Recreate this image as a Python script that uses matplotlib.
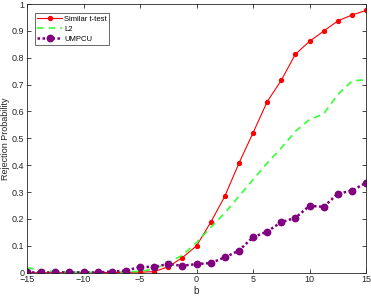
import matplotlib
matplotlib.use("Agg")
import matplotlib.pyplot as plt
import numpy as np

b = np.linspace(-15, 15, 25)
similar_t = [0.0, 0.0, 0.0, 0.0, 0.0, 0.0, 0.001, 0.001, 0.002, 0.004, 0.022, 0.056,
             0.100, 0.187, 0.284, 0.407, 0.520, 0.636, 0.716, 0.813, 0.861, 0.899,
             0.937, 0.959, 0.976]
l2 = [0.018, 0.010, 0.004, 0.002, 0.002, 0.002, 0.002, 0.003, 0.005, 0.014, 0.037, 0.065,
      0.112, 0.168, 0.222, 0.284, 0.346, 0.408, 0.464, 0.526, 0.570, 0.591,
      0.663, 0.713, 0.719]
umpcu = [0.001, 0.001, 0.001, 0.001, 0.001, 0.001, 0.004, 0.008, 0.021, 0.022, 0.032, 0.026,
         0.032, 0.036, 0.057, 0.082, 0.132, 0.153, 0.188, 0.204, 0.249, 0.245,
         0.294, 0.305, 0.335]

xticks = [-15, -10, -5, 0, 5, 10, 15]
yticks = [0, 0.1, 0.2, 0.3, 0.4, 0.5, 0.6, 0.7, 0.8, 0.9, 1]
ytick_labels = ["0", "0.1", "0.2", "0.3", "0.4", "0.5", "0.6", "0.7", "0.8", "0.9", "1"]

plt.rcParams['font.family'] = ['Liberation Sans', 'DejaVu Sans']
fig = plt.figure(figsize=(3.71, 2.98), dpi=100)
ax = fig.add_axes([27/371, 25.3/298, 339/371, 268.7/298])

ax.plot(b, similar_t, color='#ff0000', lw=0.8, marker='o', ms=2.8, label='Similar t-test')
ax.plot(b, l2, color='#33ff33', lw=1.2, ls=(0, (4, 3)), label='L2')
ax.plot(b, umpcu, color='#800080', lw=1.8, ls=(0, (1, 1)), marker='o', ms=4.6, label='UMPCU')

ax.set_xlim(-15, 15)
ax.set_ylim(0, 1)
ax.set_xticks(xticks)
ax.set_yticks(yticks)
ax.set_yticklabels(ytick_labels)
ax.tick_params(direction='in', length=3, width=0.6, labelsize=6.5, colors='#262626',
               top=True, right=True, pad=2)
for s in ax.spines.values():
    s.set_color('#262626')
    s.set_linewidth(0.6)
ax.set_xlabel('b', fontsize=7, color='#262626', labelpad=1)
ax.set_ylabel('Rejection Probability', fontsize=6.5, color='#262626', labelpad=1)

leg = ax.legend(loc='upper left', bbox_to_anchor=(0.024, 0.967), fontsize=5.5, frameon=True,
                fancybox=False, edgecolor='#262626', borderpad=0.3, labelspacing=0.35,
                handlelength=3.2, handletextpad=0.3, borderaxespad=0)
leg.get_frame().set_linewidth(0.6)

fig.savefig('out.png', dpi=100)
